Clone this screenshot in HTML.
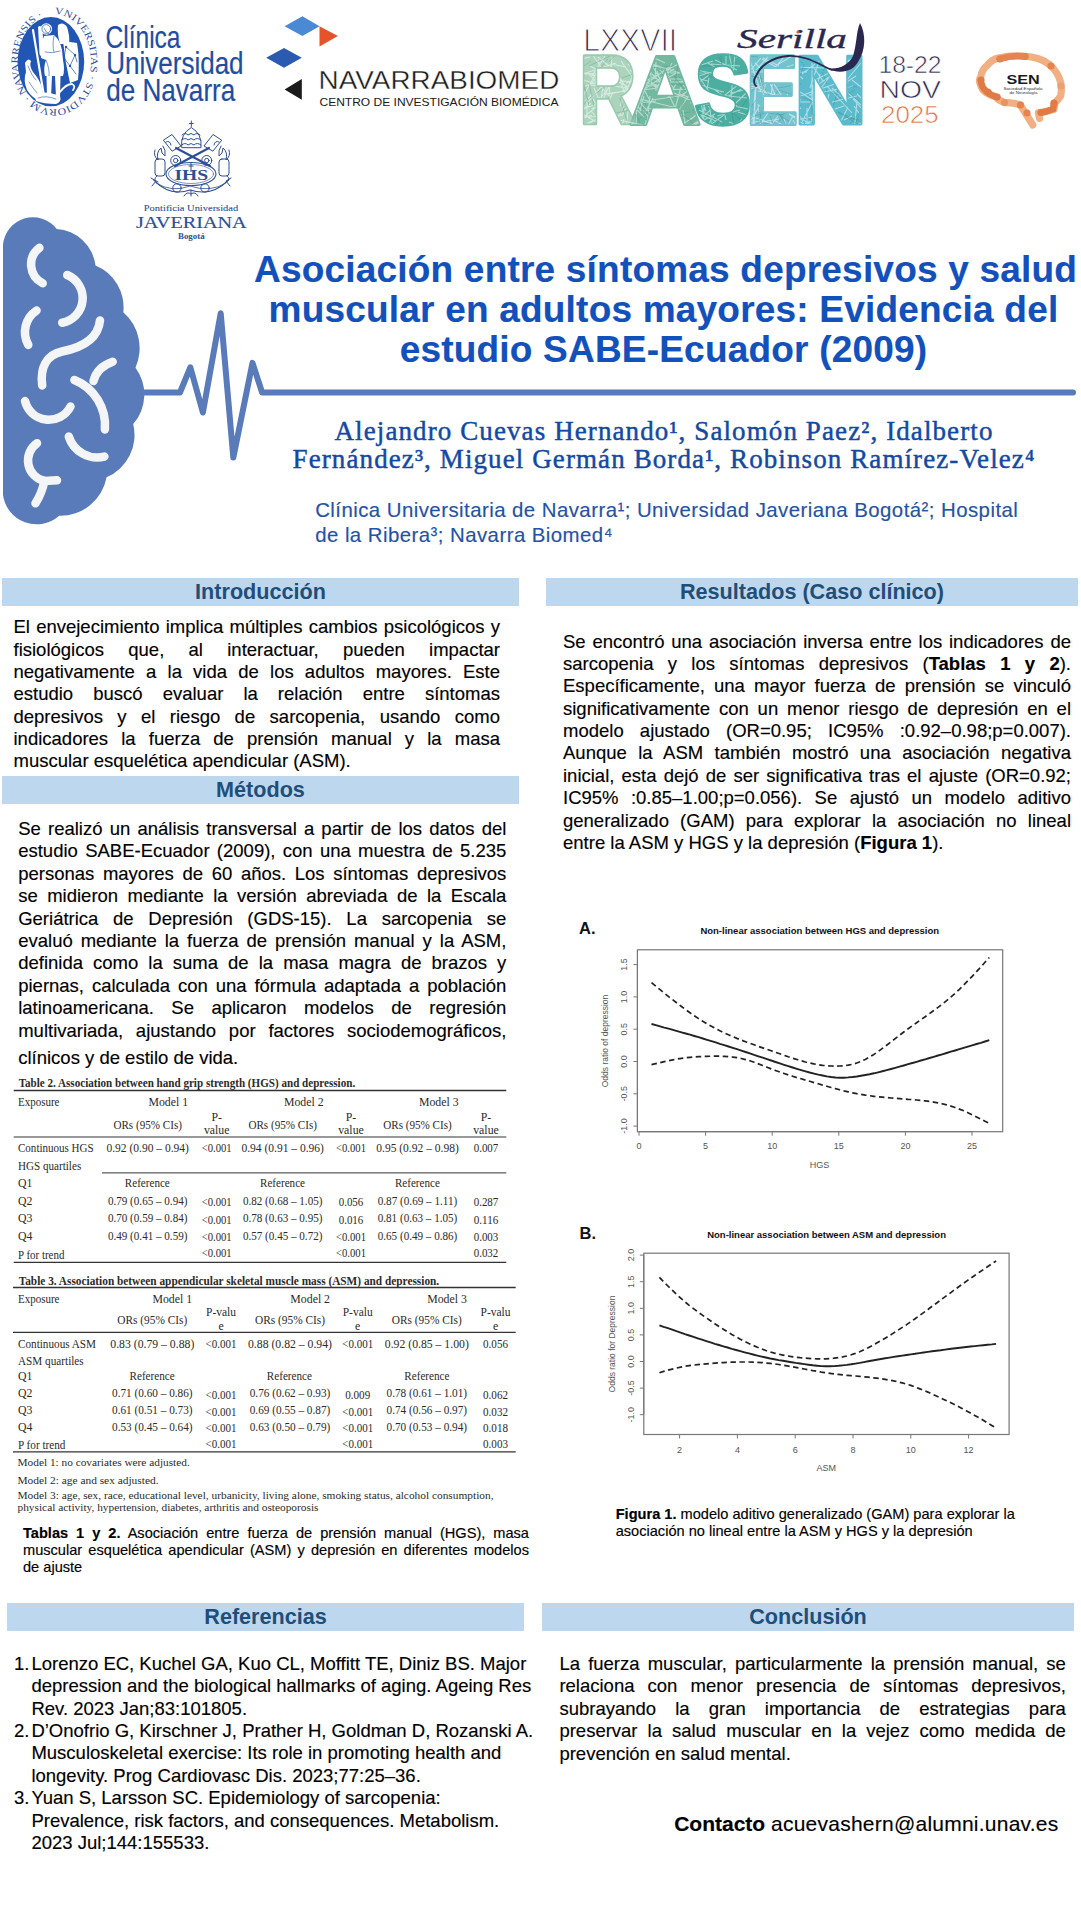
<!DOCTYPE html>
<html><head><meta charset="utf-8"><title>Poster</title>
<style>
html,body{margin:0;padding:0;background:#fff;}
body{width:1081px;height:1920px;position:relative;overflow:hidden;font-family:"Liberation Sans", sans-serif;}
.l{position:absolute;white-space:nowrap;-webkit-text-stroke:0.15px currentColor;}
.j{text-align:justify;text-align-last:justify;white-space:normal;}
.bar{position:absolute;background:#BDD7EE;color:#1F4E79;font-weight:bold;font-size:21.6px;text-align:center;}
.bar span{position:absolute;left:0;right:0;top:1px;line-height:26px;}
svg{position:absolute;left:0;top:0;}
</style></head><body>

<div class="bar" style="left:2px;top:578px;width:517px;height:28px"><span>Introducción</span></div>
<div class="bar" style="left:546px;top:578px;width:532px;height:28px"><span>Resultados (Caso clínico)</span></div>
<div class="bar" style="left:2px;top:776px;width:517px;height:28px"><span>Métodos</span></div>
<div class="bar" style="left:7px;top:1603px;width:517px;height:28px"><span>Referencias</span></div>
<div class="bar" style="left:542px;top:1603px;width:532px;height:28px"><span>Conclusión</span></div>
<div class="l j" style="left:13.5px;top:616.49px;font-size:18.5px;line-height:22.20px;color:#000;width:486.5px;">El envejecimiento implica múltiples cambios psicológicos y</div>
<div class="l j" style="left:13.5px;top:638.82px;font-size:18.5px;line-height:22.20px;color:#000;width:486.5px;">fisiológicos que, al interactuar, pueden impactar</div>
<div class="l j" style="left:13.5px;top:661.15px;font-size:18.5px;line-height:22.20px;color:#000;width:486.5px;">negativamente a la vida de los adultos mayores. Este</div>
<div class="l j" style="left:13.5px;top:683.48px;font-size:18.5px;line-height:22.20px;color:#000;width:486.5px;">estudio buscó evaluar la relación entre síntomas</div>
<div class="l j" style="left:13.5px;top:705.81px;font-size:18.5px;line-height:22.20px;color:#000;width:486.5px;">depresivos y el riesgo de sarcopenia, usando como</div>
<div class="l j" style="left:13.5px;top:728.14px;font-size:18.5px;line-height:22.20px;color:#000;width:486.5px;">indicadores la fuerza de prensión manual y la masa</div>
<div class="l" style="left:13.5px;top:750.47px;font-size:18.5px;line-height:22.20px;color:#000;width:486.5px;">muscular esquelética apendicular (ASM).</div>
<div class="l j" style="left:18.2px;top:817.59px;font-size:18.5px;line-height:22.20px;color:#000;width:488.2px;">Se realizó un análisis transversal a partir de los datos del</div>
<div class="l j" style="left:18.2px;top:840.07px;font-size:18.5px;line-height:22.20px;color:#000;width:488.2px;">estudio SABE-Ecuador (2009), con una muestra de 5.235</div>
<div class="l j" style="left:18.2px;top:862.55px;font-size:18.5px;line-height:22.20px;color:#000;width:488.2px;">personas mayores de 60 años. Los síntomas depresivos</div>
<div class="l j" style="left:18.2px;top:885.03px;font-size:18.5px;line-height:22.20px;color:#000;width:488.2px;">se midieron mediante la versión abreviada de la Escala</div>
<div class="l j" style="left:18.2px;top:907.51px;font-size:18.5px;line-height:22.20px;color:#000;width:488.2px;">Geriátrica de Depresión (GDS-15). La sarcopenia se</div>
<div class="l j" style="left:18.2px;top:929.99px;font-size:18.5px;line-height:22.20px;color:#000;width:488.2px;">evaluó mediante la fuerza de prensión manual y la ASM,</div>
<div class="l j" style="left:18.2px;top:952.47px;font-size:18.5px;line-height:22.20px;color:#000;width:488.2px;">definida como la suma de la masa magra de brazos y</div>
<div class="l j" style="left:18.2px;top:974.95px;font-size:18.5px;line-height:22.20px;color:#000;width:488.2px;">piernas, calculada con una fórmula adaptada a población</div>
<div class="l j" style="left:18.2px;top:997.43px;font-size:18.5px;line-height:22.20px;color:#000;width:488.2px;">latinoamericana. Se aplicaron modelos de regresión</div>
<div class="l j" style="left:18.2px;top:1019.91px;font-size:18.5px;line-height:22.20px;color:#000;width:488.2px;">multivariada, ajustando por factores sociodemográficos,</div>
<div class="l" style="left:18.2px;top:1046.69px;font-size:18.5px;line-height:22.20px;color:#000;">clínicos y de estilo de vida.</div>
<div class="l j" style="left:563px;top:630.59px;font-size:18.5px;line-height:22.20px;color:#000;width:508px;">Se encontró una asociación inversa entre los indicadores de</div>
<div class="l j" style="left:563px;top:652.97px;font-size:18.5px;line-height:22.20px;color:#000;width:508px;">sarcopenia y los síntomas depresivos (<b>Tablas 1 y 2</b>).</div>
<div class="l j" style="left:563px;top:675.35px;font-size:18.5px;line-height:22.20px;color:#000;width:508px;">Específicamente, una mayor fuerza de prensión se vinculó</div>
<div class="l j" style="left:563px;top:697.73px;font-size:18.5px;line-height:22.20px;color:#000;width:508px;">significativamente con un menor riesgo de depresión en el</div>
<div class="l j" style="left:563px;top:720.11px;font-size:18.5px;line-height:22.20px;color:#000;width:508px;">modelo ajustado (OR=0.95; IC95% :0.92–0.98;p=0.007).</div>
<div class="l j" style="left:563px;top:742.49px;font-size:18.5px;line-height:22.20px;color:#000;width:508px;">Aunque la ASM también mostró una asociación negativa</div>
<div class="l j" style="left:563px;top:764.87px;font-size:18.5px;line-height:22.20px;color:#000;width:508px;">inicial, esta dejó de ser significativa tras el ajuste (OR=0.92;</div>
<div class="l j" style="left:563px;top:787.25px;font-size:18.5px;line-height:22.20px;color:#000;width:508px;">IC95% :0.85–1.00;p=0.056). Se ajustó un modelo aditivo</div>
<div class="l j" style="left:563px;top:809.63px;font-size:18.5px;line-height:22.20px;color:#000;width:508px;">generalizado (GAM) para explorar la asociación no lineal</div>
<div class="l" style="left:563px;top:832.01px;font-size:18.5px;line-height:22.20px;color:#000;width:508px;">entre la ASM y HGS y la depresión (<b>Figura 1</b>).</div>
<div class="l j" style="left:559.4px;top:1652.79px;font-size:18.5px;line-height:22.20px;color:#000;width:506.5px;">La fuerza muscular, particularmente la prensión manual, se</div>
<div class="l j" style="left:559.4px;top:1675.29px;font-size:18.5px;line-height:22.20px;color:#000;width:506.5px;">relaciona con menor presencia de síntomas depresivos,</div>
<div class="l j" style="left:559.4px;top:1697.79px;font-size:18.5px;line-height:22.20px;color:#000;width:506.5px;">subrayando la gran importancia de estrategias para</div>
<div class="l j" style="left:559.4px;top:1720.29px;font-size:18.5px;line-height:22.20px;color:#000;width:506.5px;">preservar la salud muscular en la vejez como medida de</div>
<div class="l" style="left:559.4px;top:1742.79px;font-size:18.5px;line-height:22.20px;color:#000;width:506.5px;">prevención en salud mental.</div>
<div class="l" style="left:14px;top:1652.79px;font-size:18.5px;line-height:22.20px;color:#000;">1.</div>
<div class="l" style="left:31.4px;top:1652.79px;font-size:18.5px;line-height:22.20px;color:#000;">Lorenzo EC, Kuchel GA, Kuo CL, Moffitt TE, Diniz BS. Major</div>
<div class="l" style="left:31.4px;top:1675.19px;font-size:18.5px;line-height:22.20px;color:#000;">depression and the biological hallmarks of aging. Ageing Res</div>
<div class="l" style="left:31.4px;top:1697.59px;font-size:18.5px;line-height:22.20px;color:#000;">Rev. 2023 Jan;83:101805.</div>
<div class="l" style="left:14px;top:1719.99px;font-size:18.5px;line-height:22.20px;color:#000;">2.</div>
<div class="l" style="left:31.4px;top:1719.99px;font-size:18.5px;line-height:22.20px;color:#000;">D’Onofrio G, Kirschner J, Prather H, Goldman D, Rozanski A.</div>
<div class="l" style="left:31.4px;top:1742.39px;font-size:18.5px;line-height:22.20px;color:#000;">Musculoskeletal exercise: Its role in promoting health and</div>
<div class="l" style="left:31.4px;top:1764.79px;font-size:18.5px;line-height:22.20px;color:#000;">longevity. Prog Cardiovasc Dis. 2023;77:25–36.</div>
<div class="l" style="left:14px;top:1787.19px;font-size:18.5px;line-height:22.20px;color:#000;">3.</div>
<div class="l" style="left:31.4px;top:1787.19px;font-size:18.5px;line-height:22.20px;color:#000;">Yuan S, Larsson SC. Epidemiology of sarcopenia:</div>
<div class="l" style="left:31.4px;top:1809.59px;font-size:18.5px;line-height:22.20px;color:#000;">Prevalence, risk factors, and consequences. Metabolism.</div>
<div class="l" style="left:31.4px;top:1831.99px;font-size:18.5px;line-height:22.20px;color:#000;">2023 Jul;144:155533.</div>
<div class="l" style="left:674.2px;top:1810.52px;font-size:21px;line-height:25.20px;color:#000;"><b>Contacto</b> <span style='letter-spacing:0.24px'>acuevashern@alumni.unav.es</span></div>
<div class="l j" style="left:23px;top:1524.78px;font-size:14.6px;line-height:17.52px;color:#000;width:506px;"><b>Tablas 1 y 2.</b> Asociación entre fuerza de prensión manual (HGS), masa</div>
<div class="l j" style="left:23px;top:1541.78px;font-size:14.6px;line-height:17.52px;color:#000;width:506px;">muscular esquelética apendicular (ASM) y depresión en diferentes modelos</div>
<div class="l" style="left:23px;top:1559.18px;font-size:14.6px;line-height:17.52px;color:#000;">de ajuste</div>
<div class="l" style="left:615.7px;top:1505.78px;font-size:14.6px;line-height:17.52px;color:#000;"><b>Figura 1.</b> modelo aditivo generalizado (GAM) para explorar la</div>
<div class="l" style="left:615.7px;top:1522.88px;font-size:14.6px;line-height:17.52px;color:#000;">asociación no lineal entre la ASM y HGS y la depresión</div>
<div class="l" style="left:254px;top:248.18px;font-size:37px;line-height:44.40px;color:#1250BC;font-weight:bold;letter-spacing:0.2px;width:819px;text-align:center;">Asociación entre síntomas depresivos y salud</div>
<div class="l" style="left:254px;top:288.18px;font-size:37px;line-height:44.40px;color:#1250BC;font-weight:bold;letter-spacing:0.2px;width:819px;text-align:center;">muscular en adultos mayores: Evidencia del</div>
<div class="l" style="left:254px;top:328.18px;font-size:37px;line-height:44.40px;color:#1250BC;font-weight:bold;letter-spacing:0.2px;width:819px;text-align:center;">estudio SABE-Ecuador (2009)</div>
<div class="l" style="left:264px;top:415.09px;font-size:27px;line-height:32.40px;color:#1249A3;font-family:'Liberation Serif', serif;letter-spacing:1.1px;width:800px;text-align:center;-webkit-text-stroke:0.45px currentColor;">Alejandro Cuevas Hernando¹, Salomón Paez², Idalberto</div>
<div class="l" style="left:264px;top:443.09px;font-size:27px;line-height:32.40px;color:#1249A3;font-family:'Liberation Serif', serif;letter-spacing:1.1px;width:800px;text-align:center;-webkit-text-stroke:0.45px currentColor;">Fernández³, Miguel Germán Borda¹, Robinson Ramírez-Velez⁴</div>
<div class="l" style="left:315.2px;top:497.89px;font-size:20.4px;line-height:24.48px;color:#2452A5;letter-spacing:0.45px;">Clínica Universitaria de Navarra¹; Universidad Javeriana Bogotá²; Hospital</div>
<div class="l" style="left:315.2px;top:522.89px;font-size:20.4px;line-height:24.48px;color:#2452A5;letter-spacing:0.45px;">de la Ribera³; Navarra Biomed⁴</div>
<svg width="1081" height="1920" viewBox="0 0 1081 1920" style="position:absolute;left:0;top:0">
<text x="18.7" y="1087" text-anchor="start" font-family="'Liberation Serif', serif" font-size="11.8" fill="#2b2b2b" font-weight="bold" textLength="336.5" lengthAdjust="spacingAndGlyphs">Table 2. Association between hand grip strength (HGS) and depression.</text>
<line x1="13.7" y1="1090.5" x2="506.3" y2="1090.5" stroke="#333" stroke-width="1.4"/>
<text x="18" y="1106.2" text-anchor="start" font-family="'Liberation Serif', serif" font-size="11.8" fill="#2b2b2b" textLength="41.5" lengthAdjust="spacingAndGlyphs">Exposure</text>
<text x="168.3" y="1106.2" text-anchor="middle" font-family="'Liberation Serif', serif" font-size="11.8" fill="#2b2b2b">Model 1</text>
<text x="303.8" y="1106.2" text-anchor="middle" font-family="'Liberation Serif', serif" font-size="11.8" fill="#2b2b2b">Model 2</text>
<text x="438.8" y="1106.2" text-anchor="middle" font-family="'Liberation Serif', serif" font-size="11.8" fill="#2b2b2b">Model 3</text>
<text x="147.7" y="1128.7" text-anchor="middle" font-family="'Liberation Serif', serif" font-size="11.8" fill="#2b2b2b" textLength="68.5" lengthAdjust="spacingAndGlyphs">ORs (95% CIs)</text>
<text x="282.7" y="1128.7" text-anchor="middle" font-family="'Liberation Serif', serif" font-size="11.8" fill="#2b2b2b" textLength="68.5" lengthAdjust="spacingAndGlyphs">ORs (95% CIs)</text>
<text x="417.5" y="1128.7" text-anchor="middle" font-family="'Liberation Serif', serif" font-size="11.8" fill="#2b2b2b" textLength="68.5" lengthAdjust="spacingAndGlyphs">ORs (95% CIs)</text>
<text x="216.7" y="1121.2" text-anchor="middle" font-family="'Liberation Serif', serif" font-size="11.8" fill="#2b2b2b">P-</text>
<text x="216.7" y="1134.4" text-anchor="middle" font-family="'Liberation Serif', serif" font-size="11.8" fill="#2b2b2b">value</text>
<text x="351" y="1121.2" text-anchor="middle" font-family="'Liberation Serif', serif" font-size="11.8" fill="#2b2b2b">P-</text>
<text x="351" y="1134.4" text-anchor="middle" font-family="'Liberation Serif', serif" font-size="11.8" fill="#2b2b2b">value</text>
<text x="486" y="1121.2" text-anchor="middle" font-family="'Liberation Serif', serif" font-size="11.8" fill="#2b2b2b">P-</text>
<text x="486" y="1134.4" text-anchor="middle" font-family="'Liberation Serif', serif" font-size="11.8" fill="#2b2b2b">value</text>
<line x1="13.7" y1="1137" x2="506.3" y2="1137" stroke="#333" stroke-width="1.2"/>
<text x="18" y="1152.4" text-anchor="start" font-family="'Liberation Serif', serif" font-size="11.8" fill="#2b2b2b" textLength="75.7" lengthAdjust="spacingAndGlyphs">Continuous HGS</text>
<text x="147.7" y="1152.4" text-anchor="middle" font-family="'Liberation Serif', serif" font-size="11.8" fill="#2b2b2b" textLength="82.5" lengthAdjust="spacingAndGlyphs">0.92 (0.90 –  0.94)</text>
<text x="216.7" y="1152.4" text-anchor="middle" font-family="'Liberation Serif', serif" font-size="11.8" fill="#2b2b2b" textLength="30" lengthAdjust="spacingAndGlyphs">&lt;0.001</text>
<text x="282.7" y="1152.4" text-anchor="middle" font-family="'Liberation Serif', serif" font-size="11.8" fill="#2b2b2b" textLength="82.5" lengthAdjust="spacingAndGlyphs">0.94 (0.91 –  0.96)</text>
<text x="351" y="1152.4" text-anchor="middle" font-family="'Liberation Serif', serif" font-size="11.8" fill="#2b2b2b" textLength="30" lengthAdjust="spacingAndGlyphs">&lt;0.001</text>
<text x="417.5" y="1152.4" text-anchor="middle" font-family="'Liberation Serif', serif" font-size="11.8" fill="#2b2b2b" textLength="82.5" lengthAdjust="spacingAndGlyphs">0.95 (0.92 –  0.98)</text>
<text x="486" y="1152.4" text-anchor="middle" font-family="'Liberation Serif', serif" font-size="11.8" fill="#2b2b2b" textLength="24.6" lengthAdjust="spacingAndGlyphs">0.007</text>
<text x="18" y="1170" text-anchor="start" font-family="'Liberation Serif', serif" font-size="11.8" fill="#2b2b2b" textLength="63.2" lengthAdjust="spacingAndGlyphs">HGS quartiles</text>
<line x1="102" y1="1172.9" x2="506.3" y2="1172.9" stroke="#333" stroke-width="1.0"/>
<text x="18" y="1186.9" text-anchor="start" font-family="'Liberation Serif', serif" font-size="11.8" fill="#2b2b2b">Q1</text>
<text x="147.3" y="1186.9" text-anchor="middle" font-family="'Liberation Serif', serif" font-size="11.8" fill="#2b2b2b" textLength="45" lengthAdjust="spacingAndGlyphs">Reference</text>
<text x="282.5" y="1186.9" text-anchor="middle" font-family="'Liberation Serif', serif" font-size="11.8" fill="#2b2b2b" textLength="45" lengthAdjust="spacingAndGlyphs">Reference</text>
<text x="417.4" y="1186.9" text-anchor="middle" font-family="'Liberation Serif', serif" font-size="11.8" fill="#2b2b2b" textLength="45" lengthAdjust="spacingAndGlyphs">Reference</text>
<text x="147.7" y="1204.9" text-anchor="middle" font-family="'Liberation Serif', serif" font-size="11.8" fill="#2b2b2b" textLength="79.5" lengthAdjust="spacingAndGlyphs">0.79 (0.65 – 0.94)</text>
<text x="216.7" y="1206.3" text-anchor="middle" font-family="'Liberation Serif', serif" font-size="11.8" fill="#2b2b2b" textLength="30" lengthAdjust="spacingAndGlyphs">&lt;0.001</text>
<text x="282.7" y="1204.9" text-anchor="middle" font-family="'Liberation Serif', serif" font-size="11.8" fill="#2b2b2b" textLength="79.5" lengthAdjust="spacingAndGlyphs">0.82 (0.68 – 1.05)</text>
<text x="351" y="1206.3" text-anchor="middle" font-family="'Liberation Serif', serif" font-size="11.8" fill="#2b2b2b" textLength="24.6" lengthAdjust="spacingAndGlyphs">0.056</text>
<text x="417.5" y="1204.9" text-anchor="middle" font-family="'Liberation Serif', serif" font-size="11.8" fill="#2b2b2b" textLength="79.5" lengthAdjust="spacingAndGlyphs">0.87 (0.69 – 1.11)</text>
<text x="486" y="1206.3" text-anchor="middle" font-family="'Liberation Serif', serif" font-size="11.8" fill="#2b2b2b" textLength="24.6" lengthAdjust="spacingAndGlyphs">0.287</text>
<text x="18" y="1204.9" text-anchor="start" font-family="'Liberation Serif', serif" font-size="11.8" fill="#2b2b2b">Q2</text>
<text x="147.7" y="1222.4" text-anchor="middle" font-family="'Liberation Serif', serif" font-size="11.8" fill="#2b2b2b" textLength="79.5" lengthAdjust="spacingAndGlyphs">0.70 (0.59 – 0.84)</text>
<text x="216.7" y="1223.8" text-anchor="middle" font-family="'Liberation Serif', serif" font-size="11.8" fill="#2b2b2b" textLength="30" lengthAdjust="spacingAndGlyphs">&lt;0.001</text>
<text x="282.7" y="1222.4" text-anchor="middle" font-family="'Liberation Serif', serif" font-size="11.8" fill="#2b2b2b" textLength="79.5" lengthAdjust="spacingAndGlyphs">0.78 (0.63 – 0.95)</text>
<text x="351" y="1223.8" text-anchor="middle" font-family="'Liberation Serif', serif" font-size="11.8" fill="#2b2b2b" textLength="24.6" lengthAdjust="spacingAndGlyphs">0.016</text>
<text x="417.5" y="1222.4" text-anchor="middle" font-family="'Liberation Serif', serif" font-size="11.8" fill="#2b2b2b" textLength="79.5" lengthAdjust="spacingAndGlyphs">0.81 (0.63 – 1.05)</text>
<text x="486" y="1223.8" text-anchor="middle" font-family="'Liberation Serif', serif" font-size="11.8" fill="#2b2b2b" textLength="24.6" lengthAdjust="spacingAndGlyphs">0.116</text>
<text x="18" y="1222.4" text-anchor="start" font-family="'Liberation Serif', serif" font-size="11.8" fill="#2b2b2b">Q3</text>
<text x="147.7" y="1239.8" text-anchor="middle" font-family="'Liberation Serif', serif" font-size="11.8" fill="#2b2b2b" textLength="79.5" lengthAdjust="spacingAndGlyphs">0.49 (0.41 – 0.59)</text>
<text x="216.7" y="1241.2" text-anchor="middle" font-family="'Liberation Serif', serif" font-size="11.8" fill="#2b2b2b" textLength="30" lengthAdjust="spacingAndGlyphs">&lt;0.001</text>
<text x="282.7" y="1239.8" text-anchor="middle" font-family="'Liberation Serif', serif" font-size="11.8" fill="#2b2b2b" textLength="79.5" lengthAdjust="spacingAndGlyphs">0.57 (0.45 – 0.72)</text>
<text x="351" y="1241.2" text-anchor="middle" font-family="'Liberation Serif', serif" font-size="11.8" fill="#2b2b2b" textLength="30" lengthAdjust="spacingAndGlyphs">&lt;0.001</text>
<text x="417.5" y="1239.8" text-anchor="middle" font-family="'Liberation Serif', serif" font-size="11.8" fill="#2b2b2b" textLength="79.5" lengthAdjust="spacingAndGlyphs">0.65 (0.49 – 0.86)</text>
<text x="486" y="1241.2" text-anchor="middle" font-family="'Liberation Serif', serif" font-size="11.8" fill="#2b2b2b" textLength="24.6" lengthAdjust="spacingAndGlyphs">0.003</text>
<text x="18" y="1239.8" text-anchor="start" font-family="'Liberation Serif', serif" font-size="11.8" fill="#2b2b2b">Q4</text>
<text x="18" y="1258.6" text-anchor="start" font-family="'Liberation Serif', serif" font-size="11.8" fill="#2b2b2b" textLength="46.4" lengthAdjust="spacingAndGlyphs">P for trend</text>
<text x="216.7" y="1257" text-anchor="middle" font-family="'Liberation Serif', serif" font-size="11.8" fill="#2b2b2b" textLength="30" lengthAdjust="spacingAndGlyphs">&lt;0.001</text>
<text x="351" y="1257" text-anchor="middle" font-family="'Liberation Serif', serif" font-size="11.8" fill="#2b2b2b" textLength="30" lengthAdjust="spacingAndGlyphs">&lt;0.001</text>
<text x="486" y="1257" text-anchor="middle" font-family="'Liberation Serif', serif" font-size="11.8" fill="#2b2b2b" textLength="24.6" lengthAdjust="spacingAndGlyphs">0.032</text>
<line x1="13.7" y1="1262.3" x2="506.3" y2="1262.3" stroke="#333" stroke-width="1.3"/>
<text x="18.7" y="1285" text-anchor="start" font-family="'Liberation Serif', serif" font-size="11.8" fill="#2b2b2b" font-weight="bold" textLength="420.5" lengthAdjust="spacingAndGlyphs">Table 3. Association between appendicular skeletal muscle mass (ASM) and depression.</text>
<line x1="13" y1="1287.5" x2="515.7" y2="1287.5" stroke="#333" stroke-width="1.4"/>
<text x="18" y="1303" text-anchor="start" font-family="'Liberation Serif', serif" font-size="11.8" fill="#2b2b2b" textLength="41.5" lengthAdjust="spacingAndGlyphs">Exposure</text>
<text x="172.3" y="1303" text-anchor="middle" font-family="'Liberation Serif', serif" font-size="11.8" fill="#2b2b2b">Model 1</text>
<text x="310.2" y="1303" text-anchor="middle" font-family="'Liberation Serif', serif" font-size="11.8" fill="#2b2b2b">Model 2</text>
<text x="447" y="1303" text-anchor="middle" font-family="'Liberation Serif', serif" font-size="11.8" fill="#2b2b2b">Model 3</text>
<text x="152.3" y="1323.7" text-anchor="middle" font-family="'Liberation Serif', serif" font-size="11.8" fill="#2b2b2b" textLength="70" lengthAdjust="spacingAndGlyphs">ORs (95% CIs)</text>
<text x="290" y="1323.7" text-anchor="middle" font-family="'Liberation Serif', serif" font-size="11.8" fill="#2b2b2b" textLength="70" lengthAdjust="spacingAndGlyphs">ORs (95% CIs)</text>
<text x="426.8" y="1323.7" text-anchor="middle" font-family="'Liberation Serif', serif" font-size="11.8" fill="#2b2b2b" textLength="70" lengthAdjust="spacingAndGlyphs">ORs (95% CIs)</text>
<text x="221" y="1316.2" text-anchor="middle" font-family="'Liberation Serif', serif" font-size="11.8" fill="#2b2b2b" textLength="30" lengthAdjust="spacingAndGlyphs">P-valu</text>
<text x="221" y="1330.4" text-anchor="middle" font-family="'Liberation Serif', serif" font-size="11.8" fill="#2b2b2b">e</text>
<text x="357.7" y="1316.2" text-anchor="middle" font-family="'Liberation Serif', serif" font-size="11.8" fill="#2b2b2b" textLength="30" lengthAdjust="spacingAndGlyphs">P-valu</text>
<text x="357.7" y="1330.4" text-anchor="middle" font-family="'Liberation Serif', serif" font-size="11.8" fill="#2b2b2b">e</text>
<text x="495.5" y="1316.2" text-anchor="middle" font-family="'Liberation Serif', serif" font-size="11.8" fill="#2b2b2b" textLength="30" lengthAdjust="spacingAndGlyphs">P-valu</text>
<text x="495.5" y="1330.4" text-anchor="middle" font-family="'Liberation Serif', serif" font-size="11.8" fill="#2b2b2b">e</text>
<line x1="13" y1="1332.4" x2="515.7" y2="1332.4" stroke="#333" stroke-width="1.2"/>
<text x="18" y="1348.2" text-anchor="start" font-family="'Liberation Serif', serif" font-size="11.8" fill="#2b2b2b" textLength="78" lengthAdjust="spacingAndGlyphs">Continuous ASM</text>
<text x="152.3" y="1348.2" text-anchor="middle" font-family="'Liberation Serif', serif" font-size="11.8" fill="#2b2b2b" textLength="84" lengthAdjust="spacingAndGlyphs">0.83 (0.79 –  0.88)</text>
<text x="221" y="1348.2" text-anchor="middle" font-family="'Liberation Serif', serif" font-size="11.8" fill="#2b2b2b" textLength="31" lengthAdjust="spacingAndGlyphs">&lt;0.001</text>
<text x="290" y="1348.2" text-anchor="middle" font-family="'Liberation Serif', serif" font-size="11.8" fill="#2b2b2b" textLength="84" lengthAdjust="spacingAndGlyphs">0.88 (0.82 –  0.94)</text>
<text x="357.7" y="1348.2" text-anchor="middle" font-family="'Liberation Serif', serif" font-size="11.8" fill="#2b2b2b" textLength="31" lengthAdjust="spacingAndGlyphs">&lt;0.001</text>
<text x="426.8" y="1348.2" text-anchor="middle" font-family="'Liberation Serif', serif" font-size="11.8" fill="#2b2b2b" textLength="84" lengthAdjust="spacingAndGlyphs">0.92 (0.85 –  1.00)</text>
<text x="495.5" y="1348.2" text-anchor="middle" font-family="'Liberation Serif', serif" font-size="11.8" fill="#2b2b2b" textLength="25" lengthAdjust="spacingAndGlyphs">0.056</text>
<text x="18" y="1365" text-anchor="start" font-family="'Liberation Serif', serif" font-size="11.8" fill="#2b2b2b" textLength="65.7" lengthAdjust="spacingAndGlyphs">ASM quartiles</text>
<text x="18" y="1380.4" text-anchor="start" font-family="'Liberation Serif', serif" font-size="11.8" fill="#2b2b2b">Q1</text>
<text x="152.1" y="1380.4" text-anchor="middle" font-family="'Liberation Serif', serif" font-size="11.8" fill="#2b2b2b" textLength="45.2" lengthAdjust="spacingAndGlyphs">Reference</text>
<text x="289.4" y="1380.4" text-anchor="middle" font-family="'Liberation Serif', serif" font-size="11.8" fill="#2b2b2b" textLength="45.2" lengthAdjust="spacingAndGlyphs">Reference</text>
<text x="426.9" y="1380.4" text-anchor="middle" font-family="'Liberation Serif', serif" font-size="11.8" fill="#2b2b2b" textLength="45.2" lengthAdjust="spacingAndGlyphs">Reference</text>
<text x="152.3" y="1397.4" text-anchor="middle" font-family="'Liberation Serif', serif" font-size="11.8" fill="#2b2b2b" textLength="80.5" lengthAdjust="spacingAndGlyphs">0.71 (0.60 – 0.86)</text>
<text x="221" y="1398.8" text-anchor="middle" font-family="'Liberation Serif', serif" font-size="11.8" fill="#2b2b2b" textLength="31" lengthAdjust="spacingAndGlyphs">&lt;0.001</text>
<text x="290" y="1397.4" text-anchor="middle" font-family="'Liberation Serif', serif" font-size="11.8" fill="#2b2b2b" textLength="80.5" lengthAdjust="spacingAndGlyphs">0.76 (0.62 – 0.93)</text>
<text x="357.7" y="1398.8" text-anchor="middle" font-family="'Liberation Serif', serif" font-size="11.8" fill="#2b2b2b" textLength="25" lengthAdjust="spacingAndGlyphs">0.009</text>
<text x="426.8" y="1397.4" text-anchor="middle" font-family="'Liberation Serif', serif" font-size="11.8" fill="#2b2b2b" textLength="80.5" lengthAdjust="spacingAndGlyphs">0.78 (0.61 – 1.01)</text>
<text x="495.5" y="1398.8" text-anchor="middle" font-family="'Liberation Serif', serif" font-size="11.8" fill="#2b2b2b" textLength="25" lengthAdjust="spacingAndGlyphs">0.062</text>
<text x="18" y="1397.4" text-anchor="start" font-family="'Liberation Serif', serif" font-size="11.8" fill="#2b2b2b">Q2</text>
<text x="152.3" y="1414.3" text-anchor="middle" font-family="'Liberation Serif', serif" font-size="11.8" fill="#2b2b2b" textLength="80.5" lengthAdjust="spacingAndGlyphs">0.61 (0.51 – 0.73)</text>
<text x="221" y="1415.7" text-anchor="middle" font-family="'Liberation Serif', serif" font-size="11.8" fill="#2b2b2b" textLength="31" lengthAdjust="spacingAndGlyphs">&lt;0.001</text>
<text x="290" y="1414.3" text-anchor="middle" font-family="'Liberation Serif', serif" font-size="11.8" fill="#2b2b2b" textLength="80.5" lengthAdjust="spacingAndGlyphs">0.69 (0.55 – 0.87)</text>
<text x="357.7" y="1415.7" text-anchor="middle" font-family="'Liberation Serif', serif" font-size="11.8" fill="#2b2b2b" textLength="31" lengthAdjust="spacingAndGlyphs">&lt;0.001</text>
<text x="426.8" y="1414.3" text-anchor="middle" font-family="'Liberation Serif', serif" font-size="11.8" fill="#2b2b2b" textLength="80.5" lengthAdjust="spacingAndGlyphs">0.74 (0.56 – 0.97)</text>
<text x="495.5" y="1415.7" text-anchor="middle" font-family="'Liberation Serif', serif" font-size="11.8" fill="#2b2b2b" textLength="25" lengthAdjust="spacingAndGlyphs">0.032</text>
<text x="18" y="1414.3" text-anchor="start" font-family="'Liberation Serif', serif" font-size="11.8" fill="#2b2b2b">Q3</text>
<text x="152.3" y="1431" text-anchor="middle" font-family="'Liberation Serif', serif" font-size="11.8" fill="#2b2b2b" textLength="80.5" lengthAdjust="spacingAndGlyphs">0.53 (0.45 – 0.64)</text>
<text x="221" y="1432.4" text-anchor="middle" font-family="'Liberation Serif', serif" font-size="11.8" fill="#2b2b2b" textLength="31" lengthAdjust="spacingAndGlyphs">&lt;0.001</text>
<text x="290" y="1431" text-anchor="middle" font-family="'Liberation Serif', serif" font-size="11.8" fill="#2b2b2b" textLength="80.5" lengthAdjust="spacingAndGlyphs">0.63 (0.50 – 0.79)</text>
<text x="357.7" y="1432.4" text-anchor="middle" font-family="'Liberation Serif', serif" font-size="11.8" fill="#2b2b2b" textLength="31" lengthAdjust="spacingAndGlyphs">&lt;0.001</text>
<text x="426.8" y="1431" text-anchor="middle" font-family="'Liberation Serif', serif" font-size="11.8" fill="#2b2b2b" textLength="80.5" lengthAdjust="spacingAndGlyphs">0.70 (0.53 – 0.94)</text>
<text x="495.5" y="1432.4" text-anchor="middle" font-family="'Liberation Serif', serif" font-size="11.8" fill="#2b2b2b" textLength="25" lengthAdjust="spacingAndGlyphs">0.018</text>
<text x="18" y="1431" text-anchor="start" font-family="'Liberation Serif', serif" font-size="11.8" fill="#2b2b2b">Q4</text>
<text x="18" y="1449.3" text-anchor="start" font-family="'Liberation Serif', serif" font-size="11.8" fill="#2b2b2b" textLength="47.4" lengthAdjust="spacingAndGlyphs">P for trend</text>
<text x="221" y="1448" text-anchor="middle" font-family="'Liberation Serif', serif" font-size="11.8" fill="#2b2b2b" textLength="31" lengthAdjust="spacingAndGlyphs">&lt;0.001</text>
<text x="357.7" y="1448" text-anchor="middle" font-family="'Liberation Serif', serif" font-size="11.8" fill="#2b2b2b" textLength="31" lengthAdjust="spacingAndGlyphs">&lt;0.001</text>
<text x="495.5" y="1448" text-anchor="middle" font-family="'Liberation Serif', serif" font-size="11.8" fill="#2b2b2b" textLength="25" lengthAdjust="spacingAndGlyphs">0.003</text>
<line x1="13" y1="1451.8" x2="515.7" y2="1451.8" stroke="#333" stroke-width="1.3"/>
<text x="17.5" y="1466.2" text-anchor="start" font-family="'Liberation Serif', serif" font-size="11.3" fill="#2b2b2b" textLength="172.3" lengthAdjust="spacingAndGlyphs">Model 1: no covariates were adjusted.</text>
<text x="17.5" y="1483.7" text-anchor="start" font-family="'Liberation Serif', serif" font-size="11.3" fill="#2b2b2b" textLength="141" lengthAdjust="spacingAndGlyphs">Model 2: age and sex adjusted.</text>
<text x="17.5" y="1498.7" text-anchor="start" font-family="'Liberation Serif', serif" font-size="11.3" fill="#2b2b2b" textLength="476" lengthAdjust="spacingAndGlyphs">Model 3: age, sex, race, educational level, urbanicity, living alone, smoking status, alcohol consumption,</text>
<text x="17.5" y="1511.2" text-anchor="start" font-family="'Liberation Serif', serif" font-size="11.3" fill="#2b2b2b" textLength="301" lengthAdjust="spacingAndGlyphs">physical activity, hypertension, diabetes, arthritis and osteoporosis</text>
</svg>
<svg width="1081" height="1920" viewBox="0 0 1081 1920">
<path d="M3,495 L3,245 A30,30 0 0 1 56.7,228.9 A42,42 0 0 1 95.5,265.5 A45,45 0 0 1 123.3,312.2 A48,48 0 0 1 135.5,367.7 A45,45 0 0 1 133.2,424.1 A46,46 0 0 1 106.6,477.3 A47,47 0 0 1 59.2,515.8 A34,34 0 0 1 3,495 Z" fill="#5A7BBA"/>
<path d="M39.4,247.8 A21,21 0 0 0 42.7,283.3" fill="none" stroke="#F4F5F7" stroke-width="8.5" stroke-linecap="round" stroke-linejoin="round"/>
<path d="M67.2,275 A25,25 0 0 1 62.2,322.7" fill="none" stroke="#F4F5F7" stroke-width="8.5" stroke-linecap="round" stroke-linejoin="round"/>
<path d="M36.6,310.5 A26,26 0 0 0 28.3,344.9" fill="none" stroke="#F4F5F7" stroke-width="8.5" stroke-linecap="round" stroke-linejoin="round"/>
<path d="M100,320.5 C98,340 80,348 62,351.5 C46,355 40,368 42.2,385.5" fill="none" stroke="#F4F5F7" stroke-width="8.5" stroke-linecap="round" stroke-linejoin="round"/>
<path d="M74.4,380 A49,49 0 0 1 104.9,429.4" fill="none" stroke="#F4F5F7" stroke-width="8.5" stroke-linecap="round" stroke-linejoin="round"/>
<path d="M112.7,361.7 Q97,367 93.5,381" fill="none" stroke="#F4F5F7" stroke-width="8.5" stroke-linecap="round" stroke-linejoin="round"/>
<path d="M25,401.1 A24.5,24.5 0 0 0 70.5,406.6" fill="none" stroke="#F4F5F7" stroke-width="8.5" stroke-linecap="round" stroke-linejoin="round"/>
<path d="M68.8,436.6 A30,30 0 0 0 104.4,456.6" fill="none" stroke="#F4F5F7" stroke-width="8.5" stroke-linecap="round" stroke-linejoin="round"/>
<path d="M37,443.3 A21,21 0 0 0 44.4,481 L57,480.3" fill="none" stroke="#F4F5F7" stroke-width="8.5" stroke-linecap="round" stroke-linejoin="round"/>
<path d="M44.4,481 Q42,493 35.5,503.3" fill="none" stroke="#F4F5F7" stroke-width="8.5" stroke-linecap="round" stroke-linejoin="round"/>
<path d="M140,392.5 L180,392.5 L190.3,367.3 L202.9,412.5 L220.7,313.3 L233.3,457.6 L252.5,362.9 L262.1,392.5 L1073,392.5" fill="none" stroke="#5A7BBA" stroke-width="6" stroke-linecap="round" stroke-linejoin="round"/>
<defs><path id="ring" d="M54.5,14.2 A36.5,47.5 0 1 1 54.4,14.2"/></defs>
<ellipse cx="50.9" cy="61.7" rx="33.3" ry="44.6" fill="#2256B5"/>
<text font-family="'Liberation Serif', serif" font-size="9.8" fill="#2F50A0"><textPath href="#ring" textLength="252" lengthAdjust="spacingAndGlyphs">VNIVERSITAS · STVDIORVM · NAVARRENSIS ·</textPath></text>
<g stroke-linejoin="round" stroke-linecap="round"><path d="M38,27 Q41,24 42.5,30 L44,56 Q41,58 39.5,54 Z" fill="#fff"/><path d="M58,25 Q63,21 67,27 Q70,36 69,44 L60,44 Q57,34 58,25 Z" fill="#fff"/><circle cx="46.3" cy="29" r="5.8" fill="#fff"/><circle cx="46.3" cy="29" r="4.4" fill="none" stroke="#2256B5" stroke-width="0.7"/><path d="M44,28 Q46,33 49,34" fill="none" stroke="#2256B5" stroke-width="0.6"/><path d="M44,36 L54,35 Q60,40 62,50 L63,60 Q65,70 63,76 L45,76 Q43,68 46,60 L41,58 Q40,46 44,36 Z" fill="#fff"/><path d="M45,52 Q52,54 60,51 M46,60 Q50,70 49,76 M54,36 Q52,45 54,52" fill="none" stroke="#2256B5" stroke-width="0.6"/><path d="M46.5,76 L52,76 L51,98 L47,98 Z M55,76 L60.5,76 L60,97 L56,97 Z" fill="#fff"/><path d="M63,41 L77,43 Q80,60 78,80 L70,83 Q65,62 63,41 Z" fill="#fff"/><path d="M66,47 L75,55 L70,66 L76,74 M66,47 L64,58 L70,66 M75,55 L77,62" fill="none" stroke="#2256B5" stroke-width="0.7"/><circle cx="66" cy="47" r="1.2" fill="#2256B5"/><circle cx="75" cy="55" r="1.2" fill="#2256B5"/><circle cx="70" cy="66" r="1.2" fill="#2256B5"/><path d="M33,30 L43.6,93.6" stroke="#fff" stroke-width="2.2" fill="none"/><path d="M25,63 Q28,57 31,61 Q29,66 33,72 Q40,80 42,88 Q44,97 40,101 Q32,98 27,90 Q23,80 26,72 Z" fill="#fff"/><path d="M28,66 Q32,76 36,80 M29,82 Q34,90 38,94" fill="none" stroke="#2256B5" stroke-width="0.6"/><path d="M34,94 Q46,90 60,96 Q62,102 56,104 Q44,104 36,101 Z" fill="#fff"/><path d="M38,98 Q46,95 56,99" fill="none" stroke="#2256B5" stroke-width="0.6"/><path d="M60,92 Q66,84 72,84 Q76,86 73,90" fill="none" stroke="#fff" stroke-width="1.8"/></g>
<text x="105.5" y="47.6" font-family="'Liberation Sans', sans-serif" font-size="30.5" fill="#1F4DA0" stroke="#1F4DA0" stroke-width="0.2" textLength="75" lengthAdjust="spacingAndGlyphs">Clínica</text>
<text x="106.2" y="74.4" font-family="'Liberation Sans', sans-serif" font-size="30.5" fill="#1F4DA0" stroke="#1F4DA0" stroke-width="0.2" textLength="137.4" lengthAdjust="spacingAndGlyphs">Universidad</text>
<text x="106.2" y="101" font-family="'Liberation Sans', sans-serif" font-size="30.5" fill="#1F4DA0" stroke="#1F4DA0" stroke-width="0.2" textLength="129.1" lengthAdjust="spacingAndGlyphs">de Navarra</text>
<polygon points="284.6,26.3 302.4,16.2 319.5,26.3 302.4,36.1" fill="#4A8AD4"/>
<polygon points="319.5,26.3 337.9,36.1 319.5,46.4" fill="#E5532B"/>
<polygon points="266.2,57.7 284,47.9 301.8,57.7 284,67.8" fill="#2A5BB0"/>
<polygon points="284.6,89.4 301.8,79 301.8,99.7" fill="#1A1A1A"/>
<text x="318.6" y="89.4" font-family="'Liberation Sans', sans-serif" font-size="25.5" fill="#1a1a1a" stroke="#fff" stroke-width="0.35" textLength="240.7" lengthAdjust="spacingAndGlyphs">NAVARRABIOMED</text>
<text x="319.5" y="105.6" font-family="'Liberation Sans', sans-serif" font-size="11.3" fill="#1a1a1a" textLength="238.9" lengthAdjust="spacingAndGlyphs">CENTRO DE INVESTIGACIÓN BIOMÉDICA</text>
<text x="583.2" y="50.6" font-family="'Liberation Sans', sans-serif" font-size="31" fill="#2A2850" stroke="#fff" stroke-width="1.1" textLength="94" lengthAdjust="spacingAndGlyphs">LXXVII</text>
<defs><clipPath id="rclip"><text transform="translate(578.94,123.5) scale(0.81,1)" x="0" y="0" font-family="'Liberation Sans', sans-serif" font-weight="bold" font-size="98" stroke="#000" stroke-width="3.70">R</text><text transform="translate(628.45,123.5) scale(1.036,1)" x="0" y="0" font-family="'Liberation Sans', sans-serif" font-weight="bold" font-size="98" stroke="#000" stroke-width="2.90">A</text><text transform="translate(693.9,123.5) scale(0.884,1)" x="0" y="0" font-family="'Liberation Sans', sans-serif" font-weight="bold" font-size="98" stroke="#000" stroke-width="3.39">S</text><text transform="translate(746.0,123.5) scale(0.8,1)" x="0" y="0" font-family="'Liberation Sans', sans-serif" font-weight="bold" font-size="98" stroke="#000" stroke-width="3.75">E</text><text transform="translate(793.26,123.5) scale(1.055,1)" x="0" y="0" font-family="'Liberation Sans', sans-serif" font-weight="bold" font-size="98" stroke="#000" stroke-width="2.84">N</text></clipPath></defs>
<text transform="translate(578.94,123.5) scale(0.81,1)" x="0" y="0" font-family="'Liberation Sans', sans-serif" font-weight="bold" font-size="98" fill="#9ACBAF" stroke="#9ACBAF" stroke-width="3.70" stroke-linejoin="round">R</text>
<text transform="translate(628.45,123.5) scale(1.036,1)" x="0" y="0" font-family="'Liberation Sans', sans-serif" font-weight="bold" font-size="98" fill="#72B9A0" stroke="#72B9A0" stroke-width="2.90" stroke-linejoin="round">A</text>
<text transform="translate(693.9,123.5) scale(0.884,1)" x="0" y="0" font-family="'Liberation Sans', sans-serif" font-weight="bold" font-size="98" fill="#4BAEA0" stroke="#4BAEA0" stroke-width="3.39" stroke-linejoin="round">S</text>
<text transform="translate(746.0,123.5) scale(0.8,1)" x="0" y="0" font-family="'Liberation Sans', sans-serif" font-weight="bold" font-size="98" fill="#72C3CE" stroke="#72C3CE" stroke-width="3.75" stroke-linejoin="round">E</text>
<text transform="translate(793.26,123.5) scale(1.055,1)" x="0" y="0" font-family="'Liberation Sans', sans-serif" font-weight="bold" font-size="98" fill="#5BBBCD" stroke="#5BBBCD" stroke-width="2.84" stroke-linejoin="round">N</text>
<g clip-path="url(#rclip)"><rect x="575" y="50" width="60" height="80" fill="#fff" opacity="0.18"/><path d="M672,63L667,73 M733,80L759,85 M591,85L602,87 M701,115L716,121 M759,124L753,146 M858,56L841,64 M621,61L643,92 M632,96L622,116 M736,57L751,60 M774,84L790,109 M709,75L682,95 M650,96L646,136 M788,74L776,75 M699,110L722,122 M591,103L570,122 M830,76L812,100 M745,87L708,107 M715,102L748,109 M764,127L749,137 M690,103L715,105 M628,61L664,68 M617,71L630,109 M603,86L597,126 M813,118L828,136 M682,119L669,121 M630,70L650,87 M748,72L771,72 M685,95L652,100 M727,99L722,107 M836,111L802,126 M692,82L722,92 M598,57L609,66 M677,56L691,56 M609,80L649,83 M755,63L770,78 M684,61L644,82 M713,89L724,92 M678,72L666,79 M587,124L585,138 M735,54L731,98 M826,105L841,121 M628,111L624,147 M674,69L637,94 M823,113L793,132 M645,91L649,99 M588,73L611,98 M853,86L809,95 M852,80L865,90 M636,68L620,106 M820,88L802,122 M604,102L569,113 M794,88L825,108 M675,113L652,115 M694,124L685,135 M616,63L580,75 M622,115L589,117 M680,94L688,97 M857,101L853,144 M704,118L690,126 M652,74L673,95 M654,84L692,101 M681,87L670,127 M700,122L700,149 M729,53L732,68 M581,113L603,126 M787,94L801,118 M738,112L765,121 M651,73L631,91 M740,110L717,116 M755,90L753,124 M709,93L712,135 M779,119L762,122 M739,124L728,130 M615,86L631,89 M601,103L569,129 M624,106L618,118 M832,126L865,153 M694,89L655,90 M626,85L625,105 M636,76L630,83 M738,85L758,87 M758,91L801,100 M805,126L822,132 M591,111L600,121 M700,121L686,131 M623,122L615,155 M605,56L592,76 M601,123L585,158 M604,117L643,125 M709,78L702,119 M656,62L655,79 M611,64L626,67 M669,75L655,88 M723,66L727,73 M651,53L632,74 M634,88L622,91 M813,85L814,124 M692,91L667,127 M678,115L659,140 M695,78L708,81 M600,108L610,118 M604,116L574,129 M660,70L675,90 M625,86L654,118 M857,94L889,124 M668,79L690,79 M715,90L737,106 M581,72L603,78 M592,54L601,67 M747,92L724,115 M784,119L791,138 M861,63L840,88 M592,115L563,126 M789,114L814,125 M724,115L692,138 M746,120L728,148 M646,54L665,63 M610,116L604,146 M758,104L759,112 M807,109L807,137 M768,57L756,70 M601,72L591,84 M791,126L791,148 M717,104L694,125 M763,58L779,66 M792,75L790,83 M597,72L580,101 M773,74L771,99 M713,61L698,66 M859,123L884,125 M814,126L817,143 M640,124L663,142 M620,92L608,94 M814,91L782,103 M646,120L646,129 M581,89L584,108 M620,78L641,111 M580,109L570,115 M844,106L826,112 M686,82L656,82 M683,85L689,92 M609,115L636,149 M651,72L651,87 M686,125L651,138 M760,121L732,127 M785,56L769,74 M795,101L801,109 M844,62L846,82 M665,108L647,109 M767,75L763,97 M628,64L661,90 M722,69L679,82 M708,63L718,69 M677,59L690,71 M742,119L726,136 M698,92L706,111 M598,73L585,74 M723,100L709,107 M657,71L665,94 M852,116L844,120 M589,106L565,114 M747,52L761,92 M815,117L798,119 M611,64L609,97 M848,107L832,139 M710,94L747,98 M646,122L638,139 M616,71L602,102 M612,57L610,87 M691,69L688,77 M666,87L634,91 M832,88L845,100 M854,106L859,113 M722,103L726,120 M770,122L777,128 M676,84L668,97 M807,108L807,124 M856,76L842,85 M643,110L669,144 M721,66L739,81 M770,124L790,134 M641,126L650,130 M597,82L559,95 M789,128L769,132 M633,123L626,130 M769,81L777,99 M628,52L642,68 M852,61L837,63 M682,114L661,127 M594,88L610,127 M635,80L626,83 M697,114L690,120 M590,57L573,61 M793,120L802,136 M853,99L876,124 M670,73L706,73 M841,100L832,102 M647,88L604,94 M690,71L696,97 M845,66L816,86 M814,111L808,130 M671,80L663,86 M636,109L644,117 M590,94L613,132 M832,127L839,135 M607,90L592,109 M647,84L635,114 M793,116L787,127 M820,74L815,96 M790,67L803,79 M624,119L619,139 M693,127L692,144 M810,102L799,102 M715,114L679,134 M592,74L605,80 M857,96L836,101 M827,86L852,113 M850,60L840,90 M642,80L656,87 M653,98L646,111 M583,77L575,89 M669,67L646,84 M598,60L607,87 M762,59L792,76 M697,74L721,109 M669,95L679,116 M826,128L833,142 M787,67L829,68 M701,114L713,153 M711,64L740,66 M763,121L792,130 M686,90L702,99 M729,122L753,131 M809,125L820,133 M849,126L849,136 M844,81L814,91 M815,64L802,74 M695,116L683,124 M642,82L641,105 M615,71L588,102 M592,95L585,101 M819,61L810,88 M759,75L766,104 M701,102L705,126 M587,99L587,116 M798,111L800,126 M715,60L737,70 M606,86L606,95 M761,58L737,86 M726,56L726,78 M851,62L811,82 M789,114L825,139 M720,125L707,128 M805,123L825,127 M796,64L778,70 M812,63L812,105 M639,72L639,92 M590,66L628,87 M774,120L806,139 M613,92L604,112 M829,94L819,134 M610,127L601,148 M807,72L778,73 M683,110L685,124 M792,56L777,65 M762,127L754,158 M669,52L683,54 M756,85L754,126 M618,69L614,77 M581,79L601,86 M644,96L640,111 M758,88L797,106 M649,63L680,73 M828,111L834,128 M583,101L579,122 M764,86L730,93 M651,121L678,124 M696,70L732,77 M584,94L570,96 M637,98L636,130 M812,65L823,81 M594,120L567,141 M582,116L564,134 M791,86L800,94 M646,55L664,86 M778,116L767,130 M738,85L716,102 M656,101L640,103 M831,53L842,65 M792,124L778,138 M831,77L861,105 M760,105L738,143 M714,116L691,148 M705,107L700,126 M640,99L681,109 M621,54L661,68 M678,63L688,64 M777,100L757,129 M599,97L615,132 M814,120L853,128" stroke="#ffffff" stroke-opacity="0.5" stroke-width="1.1" fill="none"/><path d="M841,124L851,127 M612,55L589,66 M761,115L756,127 M608,59L601,67 M671,84L683,85 M661,106L666,119 M855,90L836,100 M589,83L594,107 M679,106L678,117 M826,59L817,64 M580,67L559,87 M581,89L582,114 M633,90L645,113 M654,124L661,132 M779,90L799,97 M603,112L589,132 M759,79L764,94 M834,59L828,61 M639,72L622,78 M688,119L701,131 M731,109L716,124 M679,77L702,89 M769,108L783,117 M800,96L816,103 M832,70L843,78 M780,116L789,121 M651,77L650,87 M674,66L650,68 M609,125L623,130 M860,112L849,125 M636,100L646,104 M691,55L698,78 M778,90L771,106 M620,98L627,121 M839,85L833,108 M700,69L683,90 M801,105L781,115 M763,86L775,104 M608,84L590,98 M759,71L763,87 M757,83L742,107 M632,102L620,112 M720,126L739,128 M626,111L608,115 M609,96L606,119 M726,101L710,110 M697,124L715,138 M692,110L719,121 M681,56L691,68 M584,84L589,106 M680,72L698,88 M848,92L867,108 M692,68L714,78 M811,100L813,120 M644,125L654,144 M813,114L815,127 M736,62L724,69 M822,72L827,84 M701,66L725,66 M660,71L670,85 M702,100L695,113 M845,117L870,122 M838,112L862,123 M760,53L789,54 M767,71L776,74 M647,111L651,120 M838,112L861,126 M753,111L740,135 M805,116L823,129 M731,108L736,135 M738,72L745,78 M721,56L722,66 M720,90L717,116 M582,116L584,135 M770,116L776,131 M854,58L845,77 M588,98L573,122 M674,127L674,144 M836,55L823,71 M677,117L684,133 M730,111L743,121 M700,94L689,101 M816,83L816,95 M724,126L713,148 M674,76L686,92 M761,112L784,115 M832,93L845,96 M582,66L562,71 M768,112L748,118 M756,100L744,116 M774,68L766,83 M797,60L803,63 M801,121L794,135 M814,112L812,124 M666,84L675,98 M763,123L782,126 M591,61L575,72 M842,86L857,87 M749,123L731,124 M698,60L693,70 M623,53L646,54 M615,125L641,133 M617,53L609,62 M789,66L813,70 M783,117L778,123 M759,106L763,134 M652,125L648,130 M584,101L578,106 M669,107L692,121 M719,57L727,75 M705,103L728,114 M684,101L677,116 M690,112L665,116 M742,74L770,80 M780,115L791,133 M859,115L854,128 M702,119L711,140 M752,120L741,127 M580,72L585,91 M813,119L838,123 M811,118L809,130 M823,113L807,137 M679,58L675,83 M637,109L626,111 M753,104L754,114 M653,109L639,119 M605,113L596,121 M745,120L728,127 M716,97L725,103 M631,105L640,123 M695,91L701,94 M864,80L884,87 M804,64L800,77 M728,54L758,57 M827,89L824,101 M802,84L778,88 M813,125L818,130 M637,66L644,68 M739,118L743,147 M839,57L835,72" stroke="#2E7F6E" stroke-opacity="0.35" stroke-width="0.8" fill="none"/></g>
<text x="737" y="47.5" font-family="'Liberation Serif', serif" font-style="italic" font-size="27" fill="#2A2850" stroke="#2A2850" stroke-width="0.35" textLength="110" lengthAdjust="spacingAndGlyphs">Serilla</text>
<circle cx="798" cy="32" r="1.6" fill="#E5532B"/>
<path d="M756,86 Q752,82 756,76 C760,66 772,57 788,56 C806,55 818,64 832,70" fill="none" stroke="#2A2850" stroke-width="1.8" stroke-linecap="round"/>
<path d="M826,68 C838,74 852,73 858,62 C866,50 866,34 860,23 C856,32 857,44 853,56 C848,66 838,70 826,68 Z" fill="#2A2850"/>
<text x="878.4" y="73" font-family="'Liberation Sans', sans-serif" font-size="23.5" fill="#2A2850" stroke="#fff" stroke-width="0.6" textLength="63.2" lengthAdjust="spacingAndGlyphs">18-22</text>
<text x="879.5" y="98.4" font-family="'Liberation Sans', sans-serif" font-size="24" fill="#2A2850" stroke="#fff" stroke-width="0.6" textLength="61.3" lengthAdjust="spacingAndGlyphs">NOV</text>
<text x="881" y="122.5" font-family="'Liberation Sans', sans-serif" font-size="24" fill="#DE7440" stroke="#fff" stroke-width="0.6" textLength="57.7" lengthAdjust="spacingAndGlyphs">2025</text>
<path d="M1032.8,125 L1020.4,105 Q1012,102 1004.8,102.7 Q998,100 995.8,97 Q983,93 981.3,87 Q978,80 980.7,77 Q982,69 986.9,65.7 Q992,59 999.2,57.9 Q1010,55 1023.8,56.2 Q1040,57 1049.5,64.6 Q1058,72 1060.7,82.5 Q1062,90 1060.7,96 Q1058,100 1055,102.7 L1054,109.4 Q1046,112 1038.4,112.8 L1039.5,118.4" fill="none" stroke="#F0B084" stroke-width="7.2" stroke-linecap="round" stroke-linejoin="round"/>
<circle cx="1000" cy="59" r="3.6" fill="#E07B45"/>
<circle cx="1025" cy="56.5" r="3.6" fill="#E07B45"/>
<circle cx="1051" cy="66" r="3.6" fill="#E6834E"/>
<circle cx="1061" cy="86" r="3.6" fill="#EBA070"/>
<circle cx="1054" cy="103" r="3.6" fill="#E07B45"/>
<circle cx="1041" cy="112.5" r="3.6" fill="#E07B45"/>
<circle cx="1020.5" cy="105" r="3.6" fill="#E6834E"/>
<circle cx="1027" cy="113" r="3.6" fill="#E6834E"/>
<circle cx="1004.5" cy="102.5" r="3.6" fill="#E9945F"/>
<circle cx="997" cy="97" r="3.6" fill="#E07B45"/>
<circle cx="981" cy="80" r="3.6" fill="#E07B45"/>
<circle cx="988" cy="92" r="3.6" fill="#E07B45"/>
<path d="M981,82 Q983,93 997,97" fill="none" stroke="#E07B45" stroke-width="6.5" stroke-linecap="round"/>
<path d="M1000,59 Q1012,55 1025,56.5" fill="none" stroke="#E6834E" stroke-width="6.5" stroke-linecap="round"/>
<path d="M1054,103 L1053,109 Q1046,112 1041,112.5" fill="none" stroke="#E07B45" stroke-width="6.5" stroke-linecap="round"/>
<text x="1006.5" y="83.6" font-family="'Liberation Sans', sans-serif" font-weight="bold" font-size="13.5" fill="#1a1a1a" textLength="33.2" lengthAdjust="spacingAndGlyphs">SEN</text>
<text x="1003.5" y="89.5" font-family="'Liberation Sans', sans-serif" font-size="3.8" fill="#333" textLength="39" lengthAdjust="spacingAndGlyphs">Sociedad Española</text>
<text x="1009.5" y="94" font-family="'Liberation Sans', sans-serif" font-size="3.8" fill="#333" textLength="28" lengthAdjust="spacingAndGlyphs">de Neurología</text>
<g fill="none" stroke="#2D4F95" stroke-width="1" stroke-linejoin="round" stroke-linecap="round"><path d="M191.3,121 L191.3,126.5 M189.3,123.5 L193.3,123.5"/><path d="M181.7,147.3 Q180,134 191.3,127.5 Q202.5,134 201,147.3 Z" fill="{JC}" fill-opacity="0.12"/><path d="M182,135 Q185,132 188,135 Q191,132 194,135 Q197,132 200,135"/><path d="M181.5,140 Q185,137 188,140 Q191,137 194,140 Q197,137 201,140"/><path d="M181.7,145 Q185,142 188,145 Q191,142 194,145 Q197,142 201,145"/><path d="M163.7,140 L172,134.5 L181,146 L172.5,151 Z" fill="{JC}" fill-opacity="0.1"/><path d="M221.4,140 L213,134.5 L204,146 L212.5,151 Z" fill="{JC}" fill-opacity="0.1"/><path d="M166,142 Q170,140 171,145 M219,142 Q215,140 214,145"/><path d="M176,148 L210,166 M209,148 L175,166" stroke-width="2.2"/><circle cx="175.7" cy="160.5" r="5"/><circle cx="175.7" cy="160.5" r="2.2"/><circle cx="206.8" cy="160.5" r="5"/><circle cx="206.8" cy="160.5" r="2.2"/><path d="M155,150 Q153,156 158,160 Q156,152 161,148 Q161,154 165,156 Q166,150 163,146"/><path d="M229,150 Q231,156 226,160 Q228,152 223,148 Q223,154 219,156 Q218,150 221,146"/><rect x="155" y="159" width="10" height="17" rx="3"/><rect x="219" y="159" width="10" height="17" rx="3"/><path d="M157,176 Q152,180 158,182 M227,176 Q232,180 226,182"/><ellipse cx="191" cy="174" rx="25" ry="11.5" stroke-width="1.1"/><ellipse cx="191" cy="174" rx="22.5" ry="9.5" stroke-width="0.6"/><path d="M153.5,179.8 Q170,197 190,190 Q212,197 228.6,179.8" stroke-width="1.1"/><path d="M156,183 Q172,193 190,186 Q210,193 226,183" stroke-width="0.8"/><path d="M151,178 L156,181 L152,186 M231,178 L226,181 L230,186"/><circle cx="177" cy="188" r="4.2"/><circle cx="205" cy="188" r="4.2"/><path d="M184,196 Q187,191 191,194 Q195,191 198,196 M191,190 L191,196"/></g>
<text x="174.5" y="179.8" font-family="'Liberation Serif', serif" font-weight="bold" font-size="15.5" fill="#2D4F95" textLength="33.7" lengthAdjust="spacingAndGlyphs">IHS</text>
<path d="M191,163 L191,172 M188.5,166 L193.5,166" stroke="#2D4F95" stroke-width="1"/>
<text x="143.8" y="211" font-family="'Liberation Serif', serif" font-size="9" fill="#2D4F95" stroke="#2D4F95" stroke-width="0.1" textLength="94.4" lengthAdjust="spacingAndGlyphs">Pontificia Universidad</text>
<text x="136" y="227.9" font-family="'Liberation Serif', serif" font-size="17.5" fill="#2D4F95" stroke="#2D4F95" stroke-width="0.15" textLength="110.7" lengthAdjust="spacingAndGlyphs">JAVERIANA</text>
<text x="178" y="239" font-family="'Liberation Serif', serif" font-weight="bold" font-size="7.5" fill="#2D4F95" textLength="26.6" lengthAdjust="spacingAndGlyphs">Bogotá</text>
<text x="579" y="934" font-family="'Liberation Sans', sans-serif" font-weight="bold" font-size="16.5" fill="#111">A.</text>
<text x="700.4" y="934" font-family="'Liberation Sans', sans-serif" font-weight="bold" font-size="9.5" fill="#111">Non-linear association between HGS and depression</text>
<rect x="637.4" y="949.8" width="365.30000000000007" height="181.9000000000001" fill="none" stroke="#777" stroke-width="1.2"/>
<line x1="633.4" y1="1126.1" x2="637.4" y2="1126.1" stroke="#777" stroke-width="1"/>
<text transform="translate(627,1126.1) rotate(-90)" text-anchor="middle" font-family="'Liberation Sans', sans-serif" font-size="9" fill="#555">-1.0</text>
<line x1="633.4" y1="1093.8" x2="637.4" y2="1093.8" stroke="#777" stroke-width="1"/>
<text transform="translate(627,1093.8) rotate(-90)" text-anchor="middle" font-family="'Liberation Sans', sans-serif" font-size="9" fill="#555">-0.5</text>
<line x1="633.4" y1="1061.5" x2="637.4" y2="1061.5" stroke="#777" stroke-width="1"/>
<text transform="translate(627,1061.5) rotate(-90)" text-anchor="middle" font-family="'Liberation Sans', sans-serif" font-size="9" fill="#555">0.0</text>
<line x1="633.4" y1="1029.2" x2="637.4" y2="1029.2" stroke="#777" stroke-width="1"/>
<text transform="translate(627,1029.2) rotate(-90)" text-anchor="middle" font-family="'Liberation Sans', sans-serif" font-size="9" fill="#555">0.5</text>
<line x1="633.4" y1="996.9" x2="637.4" y2="996.9" stroke="#777" stroke-width="1"/>
<text transform="translate(627,996.9) rotate(-90)" text-anchor="middle" font-family="'Liberation Sans', sans-serif" font-size="9" fill="#555">1.0</text>
<line x1="633.4" y1="964.6" x2="637.4" y2="964.6" stroke="#777" stroke-width="1"/>
<text transform="translate(627,964.6) rotate(-90)" text-anchor="middle" font-family="'Liberation Sans', sans-serif" font-size="9" fill="#555">1.5</text>
<line x1="639.0" y1="1131.7" x2="639.0" y2="1135.7" stroke="#777" stroke-width="1"/>
<text x="639.0" y="1149.2" text-anchor="middle" font-family="'Liberation Sans', sans-serif" font-size="9" fill="#555">0</text>
<line x1="705.6" y1="1131.7" x2="705.6" y2="1135.7" stroke="#777" stroke-width="1"/>
<text x="705.6" y="1149.2" text-anchor="middle" font-family="'Liberation Sans', sans-serif" font-size="9" fill="#555">5</text>
<line x1="772.2" y1="1131.7" x2="772.2" y2="1135.7" stroke="#777" stroke-width="1"/>
<text x="772.2" y="1149.2" text-anchor="middle" font-family="'Liberation Sans', sans-serif" font-size="9" fill="#555">10</text>
<line x1="838.8" y1="1131.7" x2="838.8" y2="1135.7" stroke="#777" stroke-width="1"/>
<text x="838.8" y="1149.2" text-anchor="middle" font-family="'Liberation Sans', sans-serif" font-size="9" fill="#555">15</text>
<line x1="905.4" y1="1131.7" x2="905.4" y2="1135.7" stroke="#777" stroke-width="1"/>
<text x="905.4" y="1149.2" text-anchor="middle" font-family="'Liberation Sans', sans-serif" font-size="9" fill="#555">20</text>
<line x1="972.0" y1="1131.7" x2="972.0" y2="1135.7" stroke="#777" stroke-width="1"/>
<text x="972.0" y="1149.2" text-anchor="middle" font-family="'Liberation Sans', sans-serif" font-size="9" fill="#555">25</text>
<line x1="639.0" y1="1131.7" x2="972.0" y2="1131.7" stroke="#777" stroke-width="1"/>
<line x1="637.4" y1="1126.1" x2="637.4" y2="964.6" stroke="#777" stroke-width="1"/>
<text transform="translate(607.5,1041) rotate(-90)" text-anchor="middle" font-family="'Liberation Sans', sans-serif" font-size="8.5" fill="#555">Odds ratio of depression</text>
<text x="819.5" y="1168" text-anchor="middle" font-family="'Liberation Sans', sans-serif" font-size="9" fill="#555">HGS</text>
<path d="M651.5,1024.0 L655.8,1025.2 L660.1,1026.4 L664.3,1027.6 L668.6,1028.7 L672.9,1029.9 L677.2,1031.1 L681.5,1032.3 L685.7,1033.5 L690.0,1034.7 L694.3,1036.0 L698.6,1037.2 L702.8,1038.5 L707.1,1039.8 L711.4,1041.1 L715.7,1042.4 L719.9,1043.8 L724.2,1045.1 L728.5,1046.5 L732.8,1047.8 L737.0,1049.2 L741.3,1050.6 L745.6,1052.0 L749.9,1053.4 L754.1,1054.9 L758.4,1056.3 L762.7,1057.7 L767.0,1059.1 L771.2,1060.5 L775.5,1062.0 L779.8,1063.4 L784.1,1064.8 L788.3,1066.1 L792.6,1067.5 L796.9,1068.8 L801.2,1070.1 L805.5,1071.3 L809.7,1072.5 L814.0,1073.6 L818.3,1074.6 L822.6,1075.5 L826.8,1076.4 L831.1,1077.0 L835.4,1077.5 L839.7,1077.7 L843.9,1077.7 L848.2,1077.4 L852.5,1077.0 L856.8,1076.5 L861.0,1075.8 L865.3,1075.0 L869.6,1074.2 L873.9,1073.3 L878.1,1072.3 L882.4,1071.3 L886.7,1070.2 L891.0,1069.0 L895.2,1067.9 L899.5,1066.7 L903.8,1065.5 L908.1,1064.2 L912.4,1063.0 L916.6,1061.8 L920.9,1060.5 L925.2,1059.3 L929.5,1058.0 L933.7,1056.8 L938.0,1055.5 L942.3,1054.3 L946.6,1053.0 L950.8,1051.7 L955.1,1050.5 L959.4,1049.2 L963.7,1047.9 L967.9,1046.6 L972.2,1045.3 L976.5,1044.0 L980.8,1042.8 L985.0,1041.5 L989.3,1040.2" fill="none" stroke="#222" stroke-width="1.9" stroke-linejoin="round"/>
<path d="M651.5,982.7 L655.8,986.2 L660.1,989.7 L664.3,993.1 L668.6,996.6 L672.9,999.9 L677.2,1003.3 L681.5,1006.5 L685.7,1009.7 L690.0,1012.8 L694.3,1015.7 L698.6,1018.6 L702.8,1021.3 L707.1,1023.9 L711.4,1026.3 L715.7,1028.6 L719.9,1030.8 L724.2,1032.8 L728.5,1034.8 L732.8,1036.6 L737.0,1038.4 L741.3,1040.1 L745.6,1041.7 L749.9,1043.3 L754.1,1044.8 L758.4,1046.4 L762.7,1047.9 L767.0,1049.3 L771.2,1050.8 L775.5,1052.3 L779.8,1053.8 L784.1,1055.3 L788.3,1056.8 L792.6,1058.2 L796.9,1059.5 L801.2,1060.8 L805.5,1062.0 L809.7,1063.0 L814.0,1063.9 L818.3,1064.7 L822.6,1065.3 L826.8,1065.7 L831.1,1066.0 L835.4,1066.1 L839.7,1066.0 L843.9,1065.7 L848.2,1065.1 L852.5,1064.3 L856.8,1063.0 L861.0,1061.4 L865.3,1059.4 L869.6,1057.0 L873.9,1054.4 L878.1,1051.5 L882.4,1048.4 L886.7,1045.2 L891.0,1041.9 L895.2,1038.6 L899.5,1035.3 L903.8,1032.0 L908.1,1028.8 L912.4,1025.7 L916.6,1022.7 L920.9,1019.7 L925.2,1016.7 L929.5,1013.6 L933.7,1010.5 L938.0,1007.4 L942.3,1004.1 L946.6,1000.7 L950.8,997.1 L955.1,993.3 L959.4,989.3 L963.7,985.1 L967.9,980.7 L972.2,976.3 L976.5,971.7 L980.8,967.0 L985.0,962.3 L989.3,957.5" fill="none" stroke="#222" stroke-width="1.7" stroke-dasharray="5.5,3.5" stroke-linejoin="round"/>
<path d="M651.5,1064.7 L655.8,1063.7 L660.1,1062.6 L664.3,1061.6 L668.6,1060.7 L672.9,1059.8 L677.2,1059.0 L681.5,1058.3 L685.7,1057.7 L690.0,1057.3 L694.3,1056.9 L698.6,1056.7 L702.8,1056.5 L707.1,1056.3 L711.4,1056.2 L715.7,1056.2 L719.9,1056.2 L724.2,1056.4 L728.5,1056.7 L732.8,1057.1 L737.0,1057.7 L741.3,1058.5 L745.6,1059.6 L749.9,1060.8 L754.1,1062.3 L758.4,1063.9 L762.7,1065.5 L767.0,1067.2 L771.2,1068.9 L775.5,1070.5 L779.8,1072.0 L784.1,1073.5 L788.3,1074.9 L792.6,1076.2 L796.9,1077.6 L801.2,1078.8 L805.5,1080.1 L809.7,1081.3 L814.0,1082.6 L818.3,1083.8 L822.6,1085.1 L826.8,1086.3 L831.1,1087.5 L835.4,1088.6 L839.7,1089.8 L843.9,1090.9 L848.2,1091.9 L852.5,1092.8 L856.8,1093.7 L861.0,1094.4 L865.3,1095.1 L869.6,1095.7 L873.9,1096.3 L878.1,1096.8 L882.4,1097.2 L886.7,1097.6 L891.0,1098.0 L895.2,1098.3 L899.5,1098.6 L903.8,1098.9 L908.1,1099.3 L912.4,1099.6 L916.6,1100.0 L920.9,1100.4 L925.2,1100.9 L929.5,1101.5 L933.7,1102.1 L938.0,1102.9 L942.3,1103.8 L946.6,1104.9 L950.8,1106.1 L955.1,1107.5 L959.4,1109.1 L963.7,1110.8 L967.9,1112.7 L972.2,1114.8 L976.5,1116.9 L980.8,1119.0 L985.0,1121.3 L989.3,1123.5" fill="none" stroke="#222" stroke-width="1.7" stroke-dasharray="5.5,3.5" stroke-linejoin="round"/>
<text x="579.6" y="1238.7" font-family="'Liberation Sans', sans-serif" font-weight="bold" font-size="16.5" fill="#111">B.</text>
<text x="707.2" y="1237.7" font-family="'Liberation Sans', sans-serif" font-weight="bold" font-size="9.5" fill="#111">Non-linear association between ASM and depression</text>
<rect x="643.8" y="1253.2" width="365.30000000000007" height="181.29999999999995" fill="none" stroke="#777" stroke-width="1.2"/>
<line x1="639.8" y1="1414.7" x2="643.8" y2="1414.7" stroke="#777" stroke-width="1"/>
<text transform="translate(633.5,1414.7) rotate(-90)" text-anchor="middle" font-family="'Liberation Sans', sans-serif" font-size="9" fill="#555">-1.0</text>
<line x1="639.8" y1="1388.1" x2="643.8" y2="1388.1" stroke="#777" stroke-width="1"/>
<text transform="translate(633.5,1388.1) rotate(-90)" text-anchor="middle" font-family="'Liberation Sans', sans-serif" font-size="9" fill="#555">-0.5</text>
<line x1="639.8" y1="1361.5" x2="643.8" y2="1361.5" stroke="#777" stroke-width="1"/>
<text transform="translate(633.5,1361.5) rotate(-90)" text-anchor="middle" font-family="'Liberation Sans', sans-serif" font-size="9" fill="#555">0.0</text>
<line x1="639.8" y1="1334.9" x2="643.8" y2="1334.9" stroke="#777" stroke-width="1"/>
<text transform="translate(633.5,1334.9) rotate(-90)" text-anchor="middle" font-family="'Liberation Sans', sans-serif" font-size="9" fill="#555">0.5</text>
<line x1="639.8" y1="1308.3" x2="643.8" y2="1308.3" stroke="#777" stroke-width="1"/>
<text transform="translate(633.5,1308.3) rotate(-90)" text-anchor="middle" font-family="'Liberation Sans', sans-serif" font-size="9" fill="#555">1.0</text>
<line x1="639.8" y1="1281.7" x2="643.8" y2="1281.7" stroke="#777" stroke-width="1"/>
<text transform="translate(633.5,1281.7) rotate(-90)" text-anchor="middle" font-family="'Liberation Sans', sans-serif" font-size="9" fill="#555">1.5</text>
<line x1="639.8" y1="1255.1" x2="643.8" y2="1255.1" stroke="#777" stroke-width="1"/>
<text transform="translate(633.5,1255.1) rotate(-90)" text-anchor="middle" font-family="'Liberation Sans', sans-serif" font-size="9" fill="#555">2.0</text>
<line x1="679.6" y1="1434.5" x2="679.6" y2="1438.5" stroke="#777" stroke-width="1"/>
<text x="679.6" y="1452.6" text-anchor="middle" font-family="'Liberation Sans', sans-serif" font-size="9" fill="#555">2</text>
<line x1="737.4" y1="1434.5" x2="737.4" y2="1438.5" stroke="#777" stroke-width="1"/>
<text x="737.4" y="1452.6" text-anchor="middle" font-family="'Liberation Sans', sans-serif" font-size="9" fill="#555">4</text>
<line x1="795.2" y1="1434.5" x2="795.2" y2="1438.5" stroke="#777" stroke-width="1"/>
<text x="795.2" y="1452.6" text-anchor="middle" font-family="'Liberation Sans', sans-serif" font-size="9" fill="#555">6</text>
<line x1="853.0" y1="1434.5" x2="853.0" y2="1438.5" stroke="#777" stroke-width="1"/>
<text x="853.0" y="1452.6" text-anchor="middle" font-family="'Liberation Sans', sans-serif" font-size="9" fill="#555">8</text>
<line x1="910.8" y1="1434.5" x2="910.8" y2="1438.5" stroke="#777" stroke-width="1"/>
<text x="910.8" y="1452.6" text-anchor="middle" font-family="'Liberation Sans', sans-serif" font-size="9" fill="#555">10</text>
<line x1="968.6" y1="1434.5" x2="968.6" y2="1438.5" stroke="#777" stroke-width="1"/>
<text x="968.6" y="1452.6" text-anchor="middle" font-family="'Liberation Sans', sans-serif" font-size="9" fill="#555">12</text>
<line x1="679.6" y1="1434.5" x2="968.6" y2="1434.5" stroke="#777" stroke-width="1"/>
<line x1="643.8" y1="1414.7" x2="643.8" y2="1255.1" stroke="#777" stroke-width="1"/>
<text transform="translate(614.5,1344) rotate(-90)" text-anchor="middle" font-family="'Liberation Sans', sans-serif" font-size="8.5" fill="#555">Odds ratio for Depression</text>
<text x="826.2" y="1471.3" text-anchor="middle" font-family="'Liberation Sans', sans-serif" font-size="9" fill="#555">ASM</text>
<path d="M659.4,1325.3 L663.6,1326.8 L667.9,1328.2 L672.2,1329.7 L676.4,1331.2 L680.7,1332.6 L684.9,1334.1 L689.2,1335.5 L693.5,1336.9 L697.7,1338.3 L702.0,1339.7 L706.3,1341.1 L710.5,1342.4 L714.8,1343.8 L719.0,1345.0 L723.3,1346.3 L727.6,1347.5 L731.8,1348.8 L736.1,1350.0 L740.3,1351.1 L744.6,1352.3 L748.9,1353.4 L753.1,1354.5 L757.4,1355.6 L761.7,1356.6 L765.9,1357.5 L770.2,1358.5 L774.4,1359.3 L778.7,1360.1 L783.0,1360.8 L787.2,1361.5 L791.5,1362.2 L795.7,1362.9 L800.0,1363.5 L804.3,1364.1 L808.5,1364.7 L812.8,1365.3 L817.1,1365.7 L821.3,1366.1 L825.6,1366.3 L829.8,1366.3 L834.1,1366.1 L838.4,1365.8 L842.6,1365.4 L846.9,1364.9 L851.2,1364.3 L855.4,1363.6 L859.7,1362.9 L863.9,1362.1 L868.2,1361.3 L872.5,1360.5 L876.7,1359.8 L881.0,1359.0 L885.2,1358.3 L889.5,1357.6 L893.8,1356.9 L898.0,1356.3 L902.3,1355.6 L906.6,1355.0 L910.8,1354.4 L915.1,1353.8 L919.3,1353.1 L923.6,1352.5 L927.9,1351.9 L932.1,1351.3 L936.4,1350.7 L940.7,1350.2 L944.9,1349.6 L949.2,1349.0 L953.4,1348.5 L957.7,1348.0 L962.0,1347.5 L966.2,1347.0 L970.5,1346.5 L974.7,1346.1 L979.0,1345.6 L983.3,1345.2 L987.5,1344.8 L991.8,1344.4 L996.1,1343.9" fill="none" stroke="#222" stroke-width="1.9" stroke-linejoin="round"/>
<path d="M659.4,1277.4 L663.6,1281.7 L667.9,1286.0 L672.2,1290.2 L676.4,1294.2 L680.7,1298.1 L684.9,1301.8 L689.2,1305.3 L693.5,1308.6 L697.7,1311.8 L702.0,1314.9 L706.3,1317.9 L710.5,1320.8 L714.8,1323.7 L719.0,1326.5 L723.3,1329.2 L727.6,1331.9 L731.8,1334.4 L736.1,1336.8 L740.3,1339.2 L744.6,1341.4 L748.9,1343.5 L753.1,1345.4 L757.4,1347.3 L761.7,1349.0 L765.9,1350.5 L770.2,1351.9 L774.4,1353.1 L778.7,1354.2 L783.0,1355.1 L787.2,1355.9 L791.5,1356.6 L795.7,1357.2 L800.0,1357.7 L804.3,1358.1 L808.5,1358.4 L812.8,1358.7 L817.1,1358.8 L821.3,1358.9 L825.6,1358.8 L829.8,1358.5 L834.1,1358.2 L838.4,1357.6 L842.6,1356.9 L846.9,1356.0 L851.2,1354.8 L855.4,1353.4 L859.7,1351.7 L863.9,1349.8 L868.2,1347.7 L872.5,1345.5 L876.7,1343.1 L881.0,1340.7 L885.2,1338.2 L889.5,1335.6 L893.8,1332.9 L898.0,1330.2 L902.3,1327.4 L906.6,1324.6 L910.8,1321.7 L915.1,1318.7 L919.3,1315.6 L923.6,1312.6 L927.9,1309.5 L932.1,1306.3 L936.4,1303.2 L940.7,1300.0 L944.9,1296.9 L949.2,1293.8 L953.4,1290.6 L957.7,1287.5 L962.0,1284.5 L966.2,1281.4 L970.5,1278.4 L974.7,1275.5 L979.0,1272.5 L983.3,1269.6 L987.5,1266.7 L991.8,1263.8 L996.1,1261.0" fill="none" stroke="#222" stroke-width="1.7" stroke-dasharray="5.5,3.5" stroke-linejoin="round"/>
<path d="M659.4,1372.7 L663.6,1371.4 L667.9,1370.2 L672.2,1369.1 L676.4,1368.1 L680.7,1367.1 L684.9,1366.3 L689.2,1365.7 L693.5,1365.1 L697.7,1364.6 L702.0,1364.2 L706.3,1363.8 L710.5,1363.5 L714.8,1363.1 L719.0,1362.8 L723.3,1362.6 L727.6,1362.4 L731.8,1362.2 L736.1,1362.1 L740.3,1362.0 L744.6,1362.0 L748.9,1362.0 L753.1,1362.2 L757.4,1362.4 L761.7,1362.6 L765.9,1363.0 L770.2,1363.4 L774.4,1363.9 L778.7,1364.5 L783.0,1365.2 L787.2,1365.9 L791.5,1366.7 L795.7,1367.4 L800.0,1368.2 L804.3,1369.0 L808.5,1369.8 L812.8,1370.6 L817.1,1371.3 L821.3,1372.1 L825.6,1372.7 L829.8,1373.3 L834.1,1373.9 L838.4,1374.4 L842.6,1374.9 L846.9,1375.3 L851.2,1375.7 L855.4,1376.0 L859.7,1376.4 L863.9,1376.8 L868.2,1377.2 L872.5,1377.7 L876.7,1378.2 L881.0,1378.7 L885.2,1379.4 L889.5,1380.1 L893.8,1380.9 L898.0,1381.9 L902.3,1382.9 L906.6,1384.1 L910.8,1385.4 L915.1,1386.9 L919.3,1388.6 L923.6,1390.3 L927.9,1392.1 L932.1,1394.1 L936.4,1396.0 L940.7,1398.0 L944.9,1400.0 L949.2,1402.0 L953.4,1404.1 L957.7,1406.2 L962.0,1408.4 L966.2,1410.7 L970.5,1413.0 L974.7,1415.4 L979.0,1417.8 L983.3,1420.3 L987.5,1422.9 L991.8,1425.4 L996.1,1428.0" fill="none" stroke="#222" stroke-width="1.7" stroke-dasharray="5.5,3.5" stroke-linejoin="round"/>
</svg>
</body></html>
